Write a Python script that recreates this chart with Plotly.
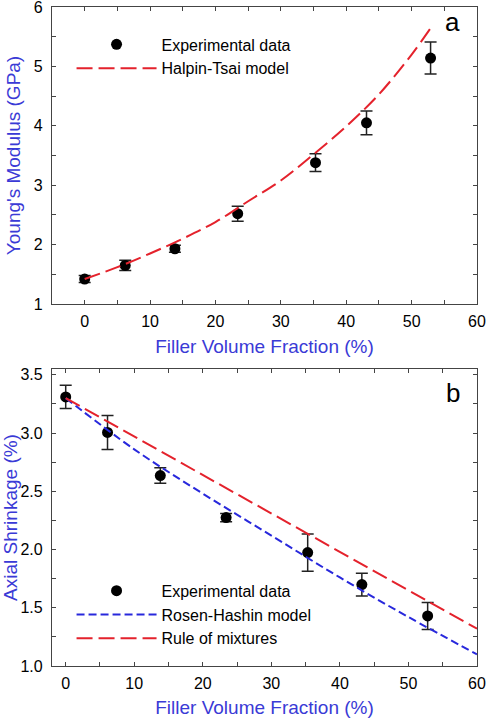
import plotly.graph_objects as go
from plotly.subplots import make_subplots

# ---------------- Panel a : Young's modulus ----------------
a_x = [0, 6.2, 13.8, 23.4, 35.3, 43.1, 52.9]
a_y = [1.42, 1.65, 1.93, 2.52, 3.38, 4.05, 5.14]
a_err = [0.06, 0.085, 0.06, 0.125, 0.15, 0.2, 0.27]

ht_x = [0, 5, 10, 15, 20, 25, 30, 35, 40, 45, 50, 53]
ht_y = [1.42, 1.62, 1.85, 2.10, 2.38, 2.73, 3.08, 3.52, 3.99, 4.53, 5.20, 5.66]

# ---------------- Panel b : Axial shrinkage ----------------
b_x = [0, 6.1, 13.8, 23.4, 35.3, 43.2, 52.8]
b_y = [3.31, 3.005, 2.635, 2.274, 1.974, 1.699, 1.43]
b_err = [0.10, 0.146, 0.067, 0.036, 0.16, 0.097, 0.116]

rh_x = [0, 10, 20, 30, 40, 50, 60]
rh_y = [3.30, 2.86, 2.48, 2.12, 1.76, 1.42, 1.10]

rm_x = [0, 60]
rm_y = [3.30, 1.32]

# ---------------- ticks ----------------
x_tickvals = [0, 5, 10, 15, 20, 25, 30, 35, 40, 45, 50, 55, 60]
x_ticktext = ["0", "", "10", "", "20", "", "30", "", "40", "", "50", "", "60"]
a_tickvals = [1, 1.5, 2, 2.5, 3, 3.5, 4, 4.5, 5, 5.5, 6]
a_ticktext = ["1", "", "2", "", "3", "", "4", "", "5", "", "6"]
b_tickvals = [1.0, 1.25, 1.5, 1.75, 2.0, 2.25, 2.5, 2.75, 3.0, 3.25, 3.5]
b_ticktext = ["1.0", "", "1.5", "", "2.0", "", "2.5", "", "3.0", "", "3.5"]

RED = "#e4222c"
BLUE = "#2828dc"
TITLE_BLUE = "#3a3ad6"
FONT = "Liberation Sans, Arial, sans-serif"

W, H = 487, 718
ML, MR, MT, MB = 52, 10, 7, 52
ph = H - MT - MB
top_lo = (H - MB - 304) / ph
bot_hi = (H - MB - 369) / ph

fig = make_subplots(rows=2, cols=1)

err_style = dict(type="data", thickness=1.5, width=6, color="#222222")

fig.add_trace(go.Scatter(x=a_x, y=a_y, mode="markers", name="Experimental data",
                         marker=dict(color="black", size=11),
                         error_y=dict(array=a_err, **err_style),
                         legend="legend"), row=1, col=1)
fig.add_trace(go.Scatter(x=ht_x, y=ht_y, mode="lines", name="Halpin-Tsai model",
                         line=dict(color=RED, width=2, dash="16px,6px", shape="spline"),
                         legend="legend"), row=1, col=1)

fig.add_trace(go.Scatter(x=b_x, y=b_y, mode="markers", name="Experimental data",
                         marker=dict(color="black", size=11),
                         error_y=dict(array=b_err, **err_style),
                         legend="legend2"), row=2, col=1)
fig.add_trace(go.Scatter(x=rh_x, y=rh_y, mode="lines", name="Rosen-Hashin model",
                         line=dict(color=BLUE, width=2, dash="8px,4px", shape="spline"),
                         legend="legend2"), row=2, col=1)
fig.add_trace(go.Scatter(x=rm_x, y=rm_y, mode="lines", name="Rule of mixtures",
                         line=dict(color=RED, width=2, dash="16px,6px"),
                         legend="legend2"), row=2, col=1)

axis_common = dict(showgrid=False, zeroline=False, showline=True, linecolor="#444444",
                   linewidth=1.3, mirror="ticks", ticks="inside", ticklen=4,
                   tickwidth=1, tickcolor="#444444", tickmode="array", automargin=False,
                   ticklabeloverflow="allow",
                   tickfont=dict(size=16, color="black", family=FONT))

fig.update_xaxes(**axis_common, tickvals=x_tickvals, ticktext=x_ticktext,
                 ticklabelstandoff=3,
                 title=dict(text="Filler Volume Fraction (%)",
                            font=dict(size=19, color=TITLE_BLUE, family=FONT), standoff=10))
fig.update_yaxes(**axis_common, ticklabelstandoff=5,
                 title=dict(font=dict(size=19, color=TITLE_BLUE, family=FONT), standoff=8))

fig.update_xaxes(range=[-5, 60], row=1, col=1)
fig.update_xaxes(range=[-2, 60], row=2, col=1)
fig.update_yaxes(range=[1, 6], tickvals=a_tickvals, ticktext=a_ticktext,
                 title_text="Young's Modulus (GPa)", row=1, col=1)
fig.update_yaxes(range=[1.0, 3.55], tickvals=b_tickvals, ticktext=b_ticktext,
                 title_text="Axial Shrinkage (%)", row=2, col=1)

legend_common = dict(bgcolor="rgba(0,0,0,0)", borderwidth=0,
                     font=dict(size=16, color="black", family=FONT),
                     itemwidth=80, tracegroupgap=0, xanchor="left", yanchor="top")

fig.update_layout(
    width=W, height=H,
    margin=dict(l=ML, r=MR, t=MT, b=MB, autoexpand=False),
    paper_bgcolor="white", plot_bgcolor="white",
    font=dict(family=FONT),
    xaxis=dict(domain=[0, 1]), yaxis=dict(domain=[top_lo, 1]),
    xaxis2=dict(domain=[0, 1]), yaxis2=dict(domain=[0, bot_hi]),
    legend=dict(**legend_common, x=0.046, y=0.969),
    legend2=dict(**legend_common, x=0.046, y=0.14),
    annotations=[
        dict(text="a", x=0.943, y=1.003, xref="paper", yref="paper", showarrow=False,
             xanchor="center", yanchor="top", font=dict(size=26, color="black", family=FONT)),
        dict(text="b", x=0.943, y=0.44, xref="paper", yref="paper", showarrow=False,
             xanchor="center", yanchor="top", font=dict(size=26, color="black", family=FONT)),
    ],
)

fig.write_html("out.html", config={"displayModeBar": False},
               post_script="document.body.style.margin='0';document.body.style.overflow='hidden';")
